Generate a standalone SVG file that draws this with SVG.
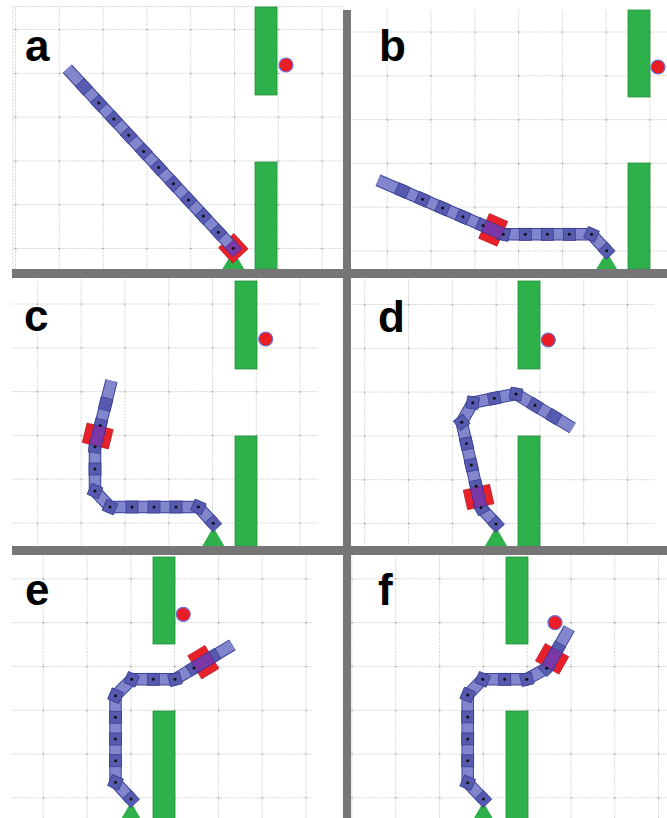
<svg xmlns="http://www.w3.org/2000/svg" xmlns:xlink="http://www.w3.org/1999/xlink" width="667" height="818" viewBox="0 0 667 818">
  <style>
    .bar{fill:#767676}
    .wall{fill:#2eb04b;stroke:#23913b;stroke-width:0.8}
    .ball{fill:#ec1c24;stroke:#6b6fd6;stroke-width:1.2}
    .base{fill:#2eb04b}
    .ao{fill:none;stroke:#3d4298;stroke-width:12.5;stroke-linejoin:round}
    .ai{fill:none;stroke:#8186cd;stroke-width:10.5;stroke-linejoin:round}
    .mod{fill:#565bb0;stroke:#393e91;stroke-width:0.8}
    .grip{fill:#e8202a;stroke:#b0141c;stroke-width:0.6}
    .pur{fill:#7a38a6;stroke:#4b2a80;stroke-width:0.6}
    .dot{fill:#111}
    .edge{fill:none;stroke:#d6d6d6;stroke-width:1;stroke-dasharray:2 1.2}
    .lbl{font-family:"Liberation Sans",Arial,sans-serif;font-weight:bold;font-size:44px;fill:#000}
  </style>
  <defs>
    <!-- dashed grid tile with a tick at each crossing -->
    <pattern id="grid" patternUnits="userSpaceOnUse" width="43.8" height="43.8">
      <path d="M0 0.5H43.8M0.5 0V43.8" fill="none" stroke="#d6d6d6" stroke-width="1" stroke-dasharray="2 1.2"/>
      <rect x="0" y="0" width="1.5" height="1.5" fill="#a8a8a8"/>
    </pattern>
    <!-- arm module, joint pin, gripper and gripper body -->
    <rect id="m" class="mod" x="-6" y="-6" width="12" height="12"/>
    <circle id="d" class="dot" r="1.5"/>
    <rect id="g" class="grip" x="-10" y="-13.5" width="20" height="27"/>
    <rect id="p" class="pur" x="-10" y="-6" width="20" height="12"/>
    <!-- arm centre lines -->
    <polyline id="armA" points="67.3,68.7 233.3,248.3"/>
    <polyline id="armB" points="378,180.3 503.3,234.3 591.5,234.3 606.7,250.7"/>
    <polyline id="armC" points="111.5,380.7 95,446.7 95,491 110,507 198.3,507 213.3,523.3"/>
    <polyline id="armD" points="572.6,428 516,394 472.7,402.7 461.7,422.3 481,507.7 496,524"/>
    <polyline id="armE" points="131,799 115.5,782.3 115.5,695.7 131.7,679.3 175,679.3 232.4,644.8"/>
    <polyline id="armF" points="483.3,799 467.7,782.7 467.7,695 482.7,679.3 526.7,679.3 546.7,668.3 569.3,628.3"/>
  </defs>

  <rect width="667" height="818" fill="#fff"/>

  <!-- panel a -->
  <g id="panel-a">
    <g transform="translate(15 29)"><rect x="-3" y="-23" width="331" height="263" fill="url(#grid)"/></g>
    <path class="edge" d="M12 6.5H343M13 6V269"/>
    <rect class="wall" x="255" y="7" width="22" height="88"/>
    <rect class="wall" x="255" y="162" width="22" height="107"/>
    <polygon class="base" points="233.3,251 222.3,269 244.3,269"/>
    <rect class="grip" x="-10.5" y="-10.5" width="21" height="21" transform="translate(233.3 248.3) rotate(47.2)"/>
    <use href="#armA" class="ao"/>
    <use href="#armA" class="ai"/>
    <use href="#m" transform="translate(83.9 86.8) rotate(47.2)"/>
    <use href="#m" transform="translate(98.8 103) rotate(47.2)"/>
    <use href="#m" transform="translate(113.8 119.1) rotate(47.2)"/>
    <use href="#m" transform="translate(128.7 135.3) rotate(47.2)"/>
    <use href="#m" transform="translate(143.7 151.4) rotate(47.2)"/>
    <use href="#m" transform="translate(158.6 167.6) rotate(47.2)"/>
    <use href="#m" transform="translate(173.5 183.7) rotate(47.2)"/>
    <use href="#m" transform="translate(188.5 199.9) rotate(47.2)"/>
    <use href="#m" transform="translate(203.4 216) rotate(47.2)"/>
    <use href="#m" transform="translate(218.4 232.2) rotate(47.2)"/>
    <rect class="pur" x="-6" y="-6" width="12" height="12" transform="translate(233.3 248.3) rotate(47.2)"/>
    <use href="#d" x="98.8" y="103"/>
    <use href="#d" x="113.8" y="119.1"/>
    <use href="#d" x="128.7" y="135.3"/>
    <use href="#d" x="143.7" y="151.4"/>
    <use href="#d" x="158.6" y="167.6"/>
    <use href="#d" x="173.5" y="183.7"/>
    <use href="#d" x="188.5" y="199.9"/>
    <use href="#d" x="203.4" y="216"/>
    <use href="#d" x="218.4" y="232.2"/>
    <use href="#d" x="233.3" y="248.3"/>
    <circle class="ball" cx="286" cy="65" r="7"/>
    <text class="lbl" x="25" y="61">a</text>
  </g>

  <!-- panel b -->
  <g id="panel-b">
    <g transform="translate(386.7 31.5)"><rect x="-35.7" y="-21.5" width="316" height="259" fill="url(#grid)"/></g>
    <rect class="wall" x="628" y="10" width="22" height="87"/>
    <rect class="wall" x="628" y="163" width="22" height="106"/>
    <polygon class="base" points="606.7,252 595.7,270 617.7,270"/>
    <use href="#g" transform="translate(493.2 229.9) rotate(23.4)"/>
    <use href="#armB" class="ao"/>
    <use href="#armB" class="ai"/>
    <use href="#m" transform="translate(402.3 190.6) rotate(23.4)"/>
    <use href="#m" transform="translate(422.5 199.3) rotate(23.4)"/>
    <use href="#m" transform="translate(442.7 208.1) rotate(23.4)"/>
    <use href="#m" transform="translate(462.9 216.8) rotate(23.4)"/>
    <use href="#m" transform="translate(483.1 225.6) rotate(23.4)"/>
    <use href="#m" transform="translate(503.3 234.3) rotate(11.7)"/>
    <use href="#m" transform="translate(525.3 234.3)"/>
    <use href="#m" transform="translate(547.3 234.3)"/>
    <use href="#m" transform="translate(569.3 234.3)"/>
    <use href="#m" transform="translate(591.5 234.3) rotate(23.6)"/>
    <use href="#m" transform="translate(606.7 250.7) rotate(47.2)"/>
    <use href="#p" transform="translate(493.2 229.9) rotate(23.4)"/>
    <use href="#d" x="422.5" y="199.3"/>
    <use href="#d" x="442.7" y="208.1"/>
    <use href="#d" x="462.9" y="216.8"/>
    <use href="#d" x="483.1" y="225.6"/>
    <use href="#d" x="503.3" y="234.3"/>
    <use href="#d" x="525.3" y="234.3"/>
    <use href="#d" x="547.3" y="234.3"/>
    <use href="#d" x="569.3" y="234.3"/>
    <use href="#d" x="591.5" y="234.3"/>
    <use href="#d" x="606.7" y="250.7"/>
    <circle class="ball" cx="658" cy="67" r="7"/>
    <text class="lbl" x="379" y="61">b</text>
  </g>

  <!-- panel c -->
  <g id="panel-c">
    <g transform="translate(36.8 303.5)"><rect x="-24.8" y="-25.5" width="306.2" height="268" fill="url(#grid)"/></g>
    <rect class="wall" x="235" y="281" width="22" height="88"/>
    <rect class="wall" x="235" y="436" width="22" height="110"/>
    <polygon class="base" points="213.3,527 202.3,546 224.3,546"/>
    <use href="#g" transform="translate(97.7 436) rotate(-76)"/>
    <use href="#armC" class="ao"/>
    <use href="#armC" class="ai"/>
    <use href="#m" transform="translate(105.6 404) rotate(-76)"/>
    <use href="#m" transform="translate(100.3 425.4) rotate(-76)"/>
    <use href="#m" transform="translate(95 446.7) rotate(-83)"/>
    <use href="#m" transform="translate(95 469)"/>
    <use href="#m" transform="translate(95 491) rotate(22.5)"/>
    <use href="#m" transform="translate(110 507) rotate(22.5)"/>
    <use href="#m" transform="translate(132 507)"/>
    <use href="#m" transform="translate(154 507)"/>
    <use href="#m" transform="translate(176 507)"/>
    <use href="#m" transform="translate(198.3 507) rotate(23.5)"/>
    <use href="#m" transform="translate(213.3 523.3) rotate(47.4)"/>
    <use href="#p" transform="translate(97.7 436) rotate(-76)"/>
    <use href="#d" x="100.3" y="425.4"/>
    <use href="#d" x="95" y="446.7"/>
    <use href="#d" x="95" y="469"/>
    <use href="#d" x="95" y="491"/>
    <use href="#d" x="110" y="507"/>
    <use href="#d" x="132" y="507"/>
    <use href="#d" x="154" y="507"/>
    <use href="#d" x="176" y="507"/>
    <use href="#d" x="198.3" y="507"/>
    <use href="#d" x="213.3" y="523.3"/>
    <circle class="ball" cx="265.7" cy="339" r="7"/>
    <text class="lbl" x="24" y="331">c</text>
  </g>

  <!-- panel d -->
  <g id="panel-d">
    <g transform="translate(364.2 304)"><rect x="-13.2" y="-26" width="302.8" height="268" fill="url(#grid)"/></g>
    <rect class="wall" x="518" y="281" width="22" height="88"/>
    <rect class="wall" x="518" y="436" width="22" height="110"/>
    <polygon class="base" points="496,527 485,546 507,546"/>
    <use href="#g" transform="translate(478.6 497) rotate(77.3)"/>
    <use href="#armD" class="ao"/>
    <use href="#armD" class="ai"/>
    <use href="#m" transform="translate(553.8 416.7) rotate(31)"/>
    <use href="#m" transform="translate(534.9 405.3) rotate(31)"/>
    <use href="#m" transform="translate(516 394) rotate(10)"/>
    <use href="#m" transform="translate(494.3 398.3) rotate(-11.4)"/>
    <use href="#m" transform="translate(472.7 402.7) rotate(9)"/>
    <use href="#m" transform="translate(461.7 422.3) rotate(53)"/>
    <use href="#m" transform="translate(466.5 443.6) rotate(77.3)"/>
    <use href="#m" transform="translate(471.3 465) rotate(77.3)"/>
    <use href="#m" transform="translate(476.2 486.3) rotate(77.3)"/>
    <use href="#m" transform="translate(481 507.7) rotate(62)"/>
    <use href="#m" transform="translate(496 524) rotate(47.4)"/>
    <use href="#p" transform="translate(478.6 497) rotate(77.3)"/>
    <use href="#d" x="534.9" y="405.3"/>
    <use href="#d" x="516" y="394"/>
    <use href="#d" x="494.3" y="398.3"/>
    <use href="#d" x="472.7" y="402.7"/>
    <use href="#d" x="461.7" y="422.3"/>
    <use href="#d" x="466.5" y="443.6"/>
    <use href="#d" x="471.3" y="465"/>
    <use href="#d" x="476.2" y="486.3"/>
    <use href="#d" x="481" y="507.7"/>
    <use href="#d" x="496" y="524"/>
    <circle class="ball" cx="548.3" cy="340" r="7"/>
    <text class="lbl" x="378" y="332">d</text>
  </g>

  <!-- panel e -->
  <g id="panel-e">
    <g transform="translate(42.7 578.3)"><rect x="-30.7" y="-23.3" width="300.3" height="263" fill="url(#grid)"/></g>
    <rect class="wall" x="153" y="557" width="22" height="87"/>
    <rect class="wall" x="153" y="711" width="22" height="110"/>
    <polygon class="base" points="131,802 120,821 142,821"/>
    <use href="#g" transform="translate(203.3 662.2) rotate(-31)"/>
    <use href="#armE" class="ao"/>
    <use href="#armE" class="ai"/>
    <use href="#m" transform="translate(131 799) rotate(47)"/>
    <use href="#m" transform="translate(115.5 782.3) rotate(23)"/>
    <use href="#m" transform="translate(115.5 760.7)"/>
    <use href="#m" transform="translate(115.5 739)"/>
    <use href="#m" transform="translate(115.5 717.3)"/>
    <use href="#m" transform="translate(115.5 695.7) rotate(22.5)"/>
    <use href="#m" transform="translate(131.7 679.3) rotate(22.5)"/>
    <use href="#m" transform="translate(153.3 679.3)"/>
    <use href="#m" transform="translate(175 679.3) rotate(-15)"/>
    <use href="#m" transform="translate(193.9 667.9) rotate(-31)"/>
    <use href="#m" transform="translate(212.7 656.6) rotate(-31)"/>
    <use href="#p" transform="translate(203.3 662.2) rotate(-31)"/>
    <use href="#d" x="131" y="799"/>
    <use href="#d" x="115.5" y="782.3"/>
    <use href="#d" x="115.5" y="760.7"/>
    <use href="#d" x="115.5" y="739"/>
    <use href="#d" x="115.5" y="717.3"/>
    <use href="#d" x="115.5" y="695.7"/>
    <use href="#d" x="131.7" y="679.3"/>
    <use href="#d" x="153.3" y="679.3"/>
    <use href="#d" x="175" y="679.3"/>
    <use href="#d" x="193.9" y="667.9"/>
    <circle class="ball" cx="183.3" cy="614.3" r="7"/>
    <text class="lbl" x="25" y="605">e</text>
  </g>

  <!-- panel f -->
  <g id="panel-f">
    <g transform="translate(395.2 578.3)"><rect x="-44.2" y="-23.3" width="316" height="263" fill="url(#grid)"/></g>
    <rect class="wall" x="506" y="557" width="22" height="87"/>
    <rect class="wall" x="506" y="711" width="22" height="110"/>
    <polygon class="base" points="483.3,802 472.3,821 494.3,821"/>
    <use href="#g" transform="translate(552.1 658.8) rotate(-60.5)"/>
    <use href="#armF" class="ao"/>
    <use href="#armF" class="ai"/>
    <use href="#m" transform="translate(483.3 799) rotate(46)"/>
    <use href="#m" transform="translate(467.7 782.7) rotate(23)"/>
    <use href="#m" transform="translate(467.7 760.8)"/>
    <use href="#m" transform="translate(467.7 738.9)"/>
    <use href="#m" transform="translate(467.7 716.9)"/>
    <use href="#m" transform="translate(467.7 695) rotate(22.5)"/>
    <use href="#m" transform="translate(482.7 679.3) rotate(22.5)"/>
    <use href="#m" transform="translate(504.7 679.3)"/>
    <use href="#m" transform="translate(526.7 679.3) rotate(-14)"/>
    <use href="#m" transform="translate(546.7 668.3) rotate(-45)"/>
    <use href="#m" transform="translate(557.5 649.2) rotate(-60.5)"/>
    <use href="#p" transform="translate(552.1 658.8) rotate(-60.5)"/>
    <use href="#d" x="483.3" y="799"/>
    <use href="#d" x="467.7" y="782.7"/>
    <use href="#d" x="467.7" y="760.8"/>
    <use href="#d" x="467.7" y="738.9"/>
    <use href="#d" x="467.7" y="716.9"/>
    <use href="#d" x="467.7" y="695"/>
    <use href="#d" x="482.7" y="679.3"/>
    <use href="#d" x="504.7" y="679.3"/>
    <use href="#d" x="526.7" y="679.3"/>
    <use href="#d" x="546.7" y="668.3"/>
    <circle class="ball" cx="555" cy="622.7" r="7"/>
    <text class="lbl" x="378" y="605">f</text>
  </g>

  <!-- frame dividers -->
  <g id="dividers">
    <rect class="bar" x="12" y="269" width="655" height="9"/>
    <rect class="bar" x="12" y="546" width="655" height="9"/>
    <rect class="bar" x="343" y="10" width="8" height="808"/>
  </g>
</svg>
